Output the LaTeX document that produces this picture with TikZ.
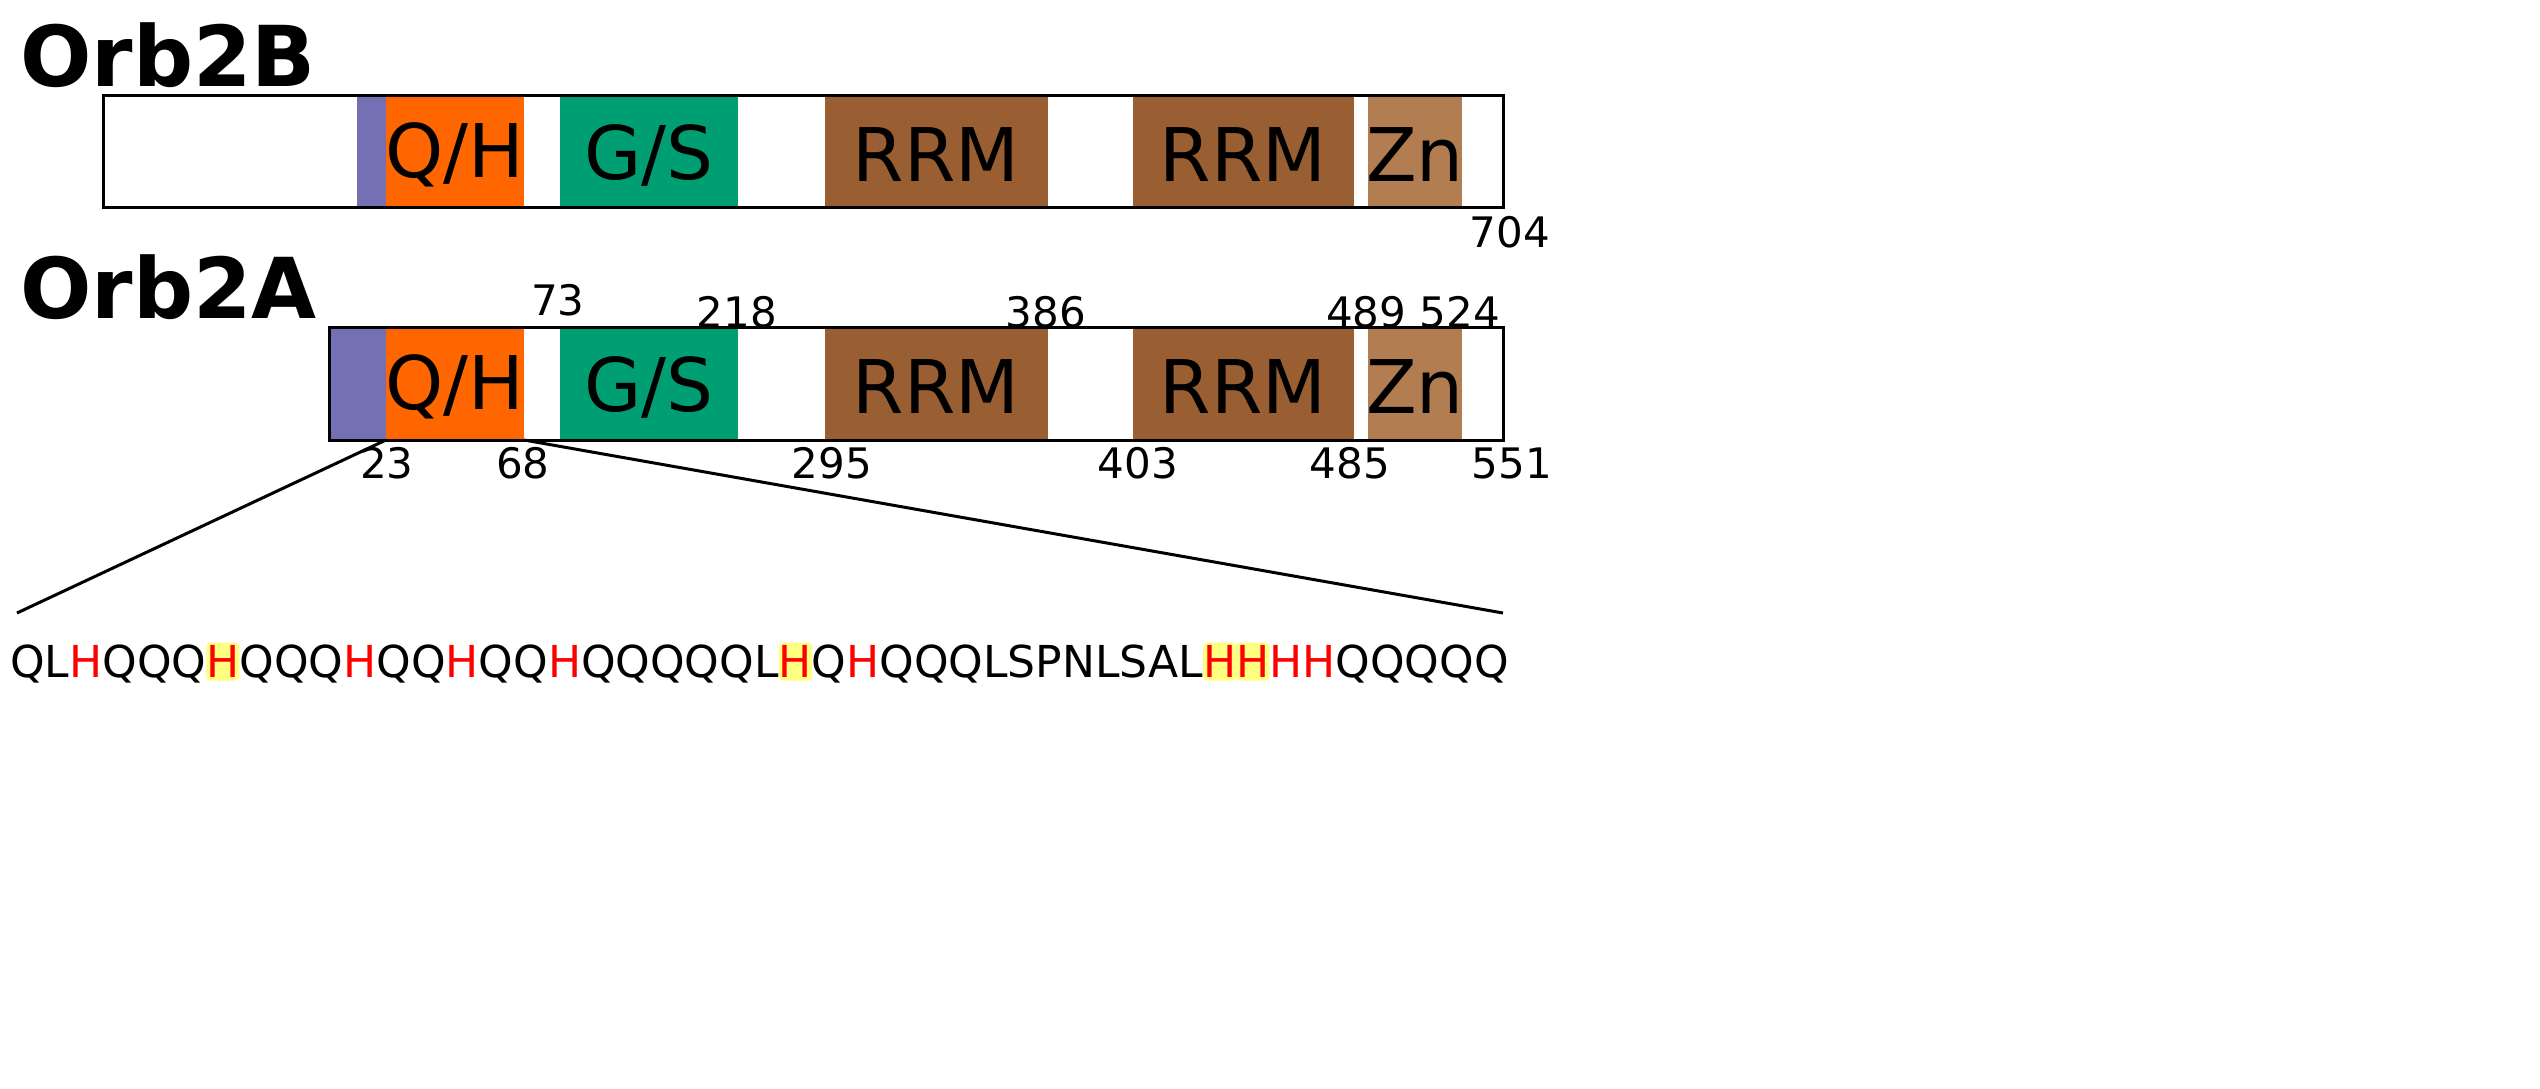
\documentclass[tikz,border=0pt]{standalone}
\usepackage{fontspec}
\setmainfont{DejaVu Sans}
\definecolor{cpur}{HTML}{7570B3}
\definecolor{cora}{HTML}{FF6600}
\definecolor{cgrn}{HTML}{009E73}
\definecolor{cbrn}{HTML}{995F33}
\definecolor{czn}{HTML}{B37D52}
\definecolor{chl}{HTML}{FFFF80}
\newcommand\rH{\textcolor{red}{H}}
\newcommand\hH{\tikz[baseline=(t.base)]\node[fill=chl,rounded corners=4pt,inner xsep=0pt,inner ysep=3pt,outer sep=0pt,text=red](t){H};}
\begin{document}
\begin{tikzpicture}[x=1pt,y=-1pt,
  dom/.style={draw=none,inner sep=0pt,font=\fontsize{74}{74}\selectfont},
  num/.style={font=\fontsize{42}{42}\selectfont,inner sep=0pt},
  ttl/.style={font=\fontsize{84}{84}\selectfont\bfseries,inner sep=0pt,anchor=base west}]
\useasboundingbox (0,0) rectangle (2540,1088);
% Orb2B
\node[ttl] (tB) at (20,86) {Orb2B};
\fill[cpur] (357,95) rectangle (386,207);
\fill[cora] (386,95) rectangle (524,207);
\fill[cgrn] (560,95) rectangle (738,207);
\fill[cbrn] (825,95) rectangle (1048,207);
\fill[cbrn] (1133,95) rectangle (1354,207);
\fill[czn] (1368,95) rectangle (1462,207);
\draw[line width=3pt] (103,95) rectangle (1503,207);
\node[dom] (b1) at (455,155) {Q/H};
\node[dom] (b2) at (649,155) {G/S};
\node[dom] (b3) at (936,155) {RRM};
\node[dom] (b4) at (1243,155) {RRM};
\node[dom] (b5) at (1415,155) {Zn};
\node[num] (n704) at (1510,232) {704};
% Orb2A
\node[ttl] (tA) at (20,318) {Orb2A};
\fill[cpur] (329,327) rectangle (386,440);
\fill[cora] (386,327) rectangle (524,440);
\fill[cgrn] (560,327) rectangle (738,440);
\fill[cbrn] (825,327) rectangle (1048,440);
\fill[cbrn] (1133,327) rectangle (1354,440);
\fill[czn] (1368,327) rectangle (1462,440);
\draw[line width=3pt] (329,327) rectangle (1503,440);
\node[dom] (a1) at (455,387) {Q/H};
\node[dom] (a2) at (649,387) {G/S};
\node[dom] (a3) at (936,387) {RRM};
\node[dom] (a4) at (1243,387) {RRM};
\node[dom] (a5) at (1415,387) {Zn};
\node[num] at (558,300) {73};
\node[num] at (737,312) {218};
\node[num] at (1046,312) {386};
\node[num] at (1413,312) {489 524};
\node[num] at (387,463) {23};
\node[num] at (523,463) {68};
\node[num] at (832,463) {295};
\node[num] at (1138,463) {403};
\node[num] at (1350,463) {485};
\node[num] at (1512,463) {551};
% zoom lines
\coordinate (p1) at (386,440);
\coordinate (p2) at (524,440);
\coordinate (q1) at (17,613);
\coordinate (q2) at (1503,613);
\draw[line width=3pt] (p1) -- (q1);
\draw[line width=3pt] (p2) -- (q2);
\node[inner sep=0pt,anchor=west,font=\fontsize{44}{44}\selectfont] (seq) at (10,663)
 {QL\rH QQQ\hH QQQ\rH QQ\rH QQ\rH QQQQQL\hH Q\rH QQQLSPNLSAL\hH\hH\rH\rH QQQQQ};
\end{tikzpicture}
\end{document}
